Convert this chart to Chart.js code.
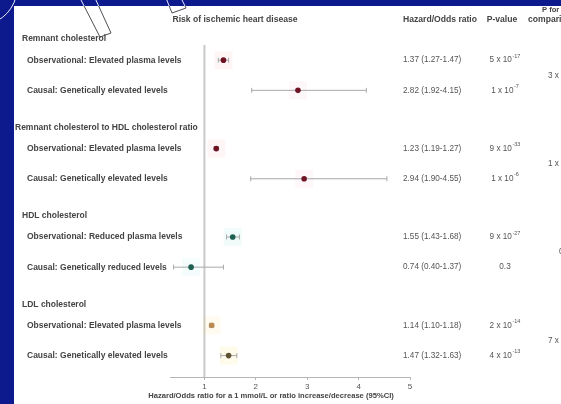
<!DOCTYPE html>
<html>
<head>
<meta charset="utf-8">
<script src="https://cdn.jsdelivr.net/npm/chart.js@4.4.1/dist/chart.umd.min.js"></script>
<style>
  html, body { margin: 0; padding: 0; background: #0c1a8e; }
  #wrap { width: 561px; height: 404px; position: relative; }
</style>
</head>
<body>
<div id="wrap"><canvas id="c"></canvas></div>
<script>
// Forest plot: risk of ischemic heart disease per lipid fraction
const groups = [
  'Remnant cholesterol',
  'Remnant cholesterol to HDL cholesterol ratio',
  'HDL cholesterol',
  'LDL cholesterol'
];
const rowLabels = [
  'Observational: Elevated plasma levels',
  'Causal: Genetically elevated levels',
  'Observational: Elevated plasma levels',
  'Causal: Genetically elevated levels',
  'Observational: Reduced plasma levels',
  'Causal: Genetically reduced levels',
  'Observational: Elevated plasma levels',
  'Causal: Genetically elevated levels'
];
const ratios = [1.37, 2.82, 1.23, 2.94, 1.55, 0.74, 1.14, 1.47];
const lower  = [1.27, 1.92, 1.19, 1.90, 1.43, 0.40, 1.10, 1.32];
const upper  = [1.47, 4.15, 1.27, 4.55, 1.68, 1.37, 1.18, 1.63];
const pBase  = ['5 x 10', '1 x 10', '9 x 10', '1 x 10', '9 x 10', '0.3', '2 x 10', '4 x 10'];
const pExp   = ['-17', '-7', '-33', '-6', '-27', '', '-14', '-13'];
const compBase = ['3 x 10', '1 x 10', '0.01', '7 x 10'];
const xTicks = [1, 2, 3, 4, 5];
const xTitle = 'Hazard/Odds ratio for a 1 mmol/L or ratio increase/decrease (95%CI)';

const markerColors = ['#6e1224', '#6e1224', '#6e1224', '#6e1224', '#1d5f52', '#1d5f52', '#b98a52', '#5d5232'];
const haloColors = ['rgba(230,60,90,0.05)', 'rgba(230,60,90,0.04)', 'rgba(230,60,90,0.05)', 'rgba(230,60,90,0.04)',
                    'rgba(40,200,190,0.07)', 'rgba(40,200,190,0.05)', 'rgba(250,210,80,0.08)', 'rgba(250,220,60,0.10)'];

// vertical slot of each row on the (hidden) y scale
const rowY = i => 1 + Math.floor(i / 2) * 2.93 + (i % 2);
const headY = g => 0.3 + g * 2.93;

const FONT = "'Liberation Sans', Arial, sans-serif";

function fmt(ctx, size, weight) { ctx.font = (weight || '') + ' ' + size + 'px ' + FONT; }

function drawPower(ctx, base, exp, x, y, align) {
  fmt(ctx, 8.2, '');
  const bw = ctx.measureText(base).width;
  fmt(ctx, 5.5, '');
  const ew = exp ? ctx.measureText(exp).width + 0.5 : 0;
  let start = x;
  if (align === 'center') start = x - (bw + ew) / 2;
  if (align === 'right') start = x - (bw + ew);
  ctx.textAlign = 'left';
  fmt(ctx, 8.2, '');
  ctx.fillText(base, start, y);
  if (exp) {
    fmt(ctx, 5.5, '');
    ctx.fillText(exp, start + bw + 0.5, y - 4);
  }
}

const backdrop = {
  id: 'backdrop',
  beforeDraw(chart) {
    const ctx = chart.ctx;
    ctx.save();
    ctx.fillStyle = '#0c1a8e';
    ctx.fillRect(0, 0, chart.width, chart.height);
    ctx.fillStyle = '#ffffff';
    ctx.fillRect(14, 6, chart.width - 14, chart.height - 6);
    // slide ornament outlines
    const shapes = () => {
      ctx.beginPath();
      ctx.arc(-20, -12, 37, 0.05, 1.45);
      ctx.moveTo(80, -2); ctx.lineTo(100, 37); ctx.lineTo(111, 33); ctx.lineTo(95, -2);
      ctx.moveTo(166, -2); ctx.lineTo(172, 13); ctx.lineTo(186, 8); ctx.lineTo(181, -2);
    };
    ctx.lineWidth = 1;
    ctx.strokeStyle = '#e8ecff';
    shapes(); ctx.stroke();
    ctx.save();
    ctx.beginPath(); ctx.rect(14, 6, chart.width, chart.height); ctx.clip();
    ctx.strokeStyle = '#555';
    shapes(); ctx.stroke();
    ctx.restore();
    ctx.restore();
  }
};

const intervals = {
  id: 'intervals',
  beforeDatasetsDraw(chart) {
    const ctx = chart.ctx, xs = chart.scales.x, ys = chart.scales.y;
    ctx.save();
    // line of no effect
    const x1 = xs.getPixelForValue(1);
    ctx.strokeStyle = '#c9c9c9';
    ctx.lineWidth = 2;
    ctx.beginPath();
    ctx.moveTo(x1, ys.getPixelForValue(0.5));
    ctx.lineTo(x1, chart.chartArea.bottom);
    ctx.stroke();
    ratios.forEach((r, i) => {
      const y = ys.getPixelForValue(rowY(i));
      const a = xs.getPixelForValue(lower[i]);
      const b = xs.getPixelForValue(upper[i]);
      const c = xs.getPixelForValue(r);
      ctx.fillStyle = haloColors[i];
      ctx.fillRect(c - 9, y - 9, 18, 18);
      ctx.strokeStyle = '#a9a9a9';
      ctx.lineWidth = 1;
      ctx.beginPath();
      ctx.moveTo(a, y); ctx.lineTo(b, y);
      ctx.moveTo(a, y - 2.5); ctx.lineTo(a, y + 2.5);
      ctx.moveTo(b, y - 2.5); ctx.lineTo(b, y + 2.5);
      ctx.stroke();
    });
    ctx.restore();
  }
};

const textColumns = {
  id: 'textColumns',
  afterDraw(chart) {
    const ctx = chart.ctx, ys = chart.scales.y;
    ctx.save();
    ctx.textBaseline = 'middle';
    // titles
    ctx.fillStyle = '#444';
    fmt(ctx, 8.6, 'bold');
    ctx.textAlign = 'center';
    ctx.fillText('Risk of ischemic heart disease', 235, 20);
    ctx.fillText('Hazard/Odds ratio', 440, 20);
    ctx.fillText('P-value', 502, 20);
    ctx.textAlign = 'left';
    fmt(ctx, 7.6, 'bold');
    ctx.fillText('P for', 542, 10);
    fmt(ctx, 8.6, 'bold');
    ctx.fillText('comparison', 528, 20);
    // axis title
    fmt(ctx, 7.6, 'bold');
    ctx.textAlign = 'center';
    ctx.fillText(xTitle, 271, 396);
    // group headers and row labels
    groups.forEach((g, k) => {
      ctx.fillStyle = '#444';
      fmt(ctx, 8.5, 'bold');
      ctx.textAlign = 'left';
      ctx.fillText(g, k === 1 ? 15 : 22, ys.getPixelForValue(headY(k)));
      // between-row comparison p
      fmt(ctx, 8.2, '');
      ctx.fillStyle = '#555';
      const ym = (ys.getPixelForValue(rowY(2 * k)) + ys.getPixelForValue(rowY(2 * k + 1))) / 2;
      ctx.fillText(compBase[k], k === 2 ? 559 : 548, ym);
    });
    rowLabels.forEach((t, i) => {
      const y = ys.getPixelForValue(rowY(i));
      ctx.fillStyle = '#444';
      fmt(ctx, 8.5, 'bold');
      ctx.textAlign = 'left';
      ctx.fillText(t, 27, y);
      ctx.fillStyle = '#555';
      fmt(ctx, 8.2, '');
      ctx.fillText(ratios[i].toFixed(2) + ' (' + lower[i].toFixed(2) + '-' + upper[i].toFixed(2) + ')', 403, y);
      drawPower(ctx, pBase[i], pExp[i], 505, y, 'center');
    });
    ctx.restore();
  }
};

new Chart(document.getElementById('c'), {
  type: 'scatter',
  data: {
    datasets: [{
      data: ratios.map((r, i) => ({ x: r, y: rowY(i) })),
      pointBackgroundColor: markerColors,
      pointBorderWidth: 0,
      pointRadius: 2.8,
      pointHoverRadius: 2.8
    }]
  },
  options: {
    responsive: true,
    maintainAspectRatio: false,
    animation: false,
    events: [],
    layout: { padding: { left: 170, right: 151, top: 30, bottom: 0 } },
    plugins: { legend: { display: false }, tooltip: { enabled: false } },
    scales: {
      x: {
        type: 'linear',
        min: 0.33,
        max: 5,
        afterBuildTicks: s => { s.ticks = xTicks.map(v => ({ value: v })); },
        afterFit: s => { s.height = 27; },
        grid: { drawOnChartArea: false, drawTicks: true, tickLength: 3, color: '#b5b5b5' },
        border: { color: '#b5b5b5', width: 1 },
        ticks: { color: '#555', font: { family: FONT, size: 8 }, padding: 2, maxRotation: 0 },
        title: { display: false }
      },
      y: { type: 'linear', reverse: true, min: 0, max: 11.5, display: false }
    }
  },
  plugins: [backdrop, intervals, textColumns]
});
</script>
</body>
</html>
